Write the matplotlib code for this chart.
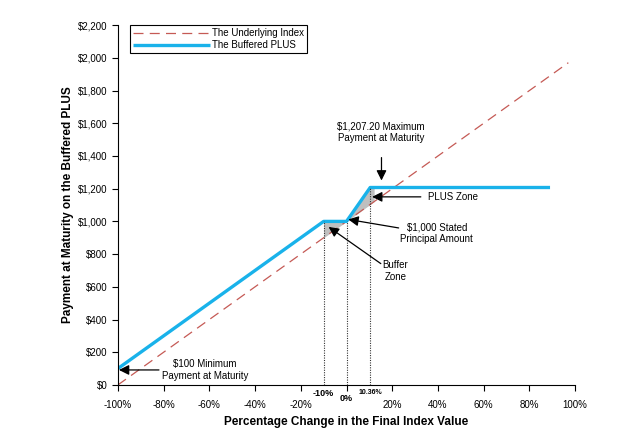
import matplotlib
matplotlib.use('Agg')
import numpy as np
import matplotlib.pyplot as plt
from matplotlib.ticker import FuncFormatter

plt.rcParams['font.family'] = ['Liberation Sans', 'DejaVu Sans']

# data (percent change -> payment)
index_x = [-100, 97]
index_y = [0, 1970]
plus_x = [-100, -10, 0, 10.36, 89]
plus_y = [100, 1000, 1000, 1207.2, 1207.2]
xticks = [-100, -80, -60, -40, -20, 0, 20, 40, 60, 80, 100]
xtick_labels = ['-100%', '-80%', '-60%', '-40%', '-20%', '', '20%', '40%', '60%', '80%', '100%']
yticks = list(range(0, 2201, 200))
marks = [-10, 0, 10.36]
mark_tops = [1000, 1000, 1207.2]

fig = plt.figure(figsize=(6.3, 4.4), dpi=100)
ax = fig.add_axes([0.187, 0.125, 0.726, 0.818])

# shaded zones between buffered plus and index
bx = np.array([-10, 0])
ax.fill_between(bx, [1000, 1000], 1000 + 10 * bx, color='#bfbfbf', lw=0)
px = np.array([0, 10.36, 12.072])
ax.fill_between(px, [1000, 1207.2, 1207.2], 1000 + 10 * px, color='#bfbfbf', lw=0)

ax.plot(index_x, index_y, color='#c55a55', lw=0.9, dashes=(8, 5), label='The Underlying Index')
ax.plot(plus_x, plus_y, color='#19b2ea', lw=2.4, label='The Buffered PLUS', solid_capstyle='butt')

for m, t in zip(marks, mark_tops):
    ax.plot([m, m], [0, t], color='#333333', lw=0.8, ls=(0, (1, 1.2)))

ax.set_xlim(-100, 100)
ax.set_ylim(0, 2200)
ax.set_xticks(xticks)
ax.set_xticklabels(xtick_labels)
ax.set_yticks(yticks)
ax.yaxis.set_major_formatter(FuncFormatter(lambda v, p: '${:,.0f}'.format(v)))
ax.tick_params(axis='both', labelsize=7, length=4, width=0.8)
ax.tick_params(axis='x', pad=7)
ax.spines['top'].set_visible(False)
ax.spines['right'].set_visible(False)

ax.text(-10, -22, '-10%', ha='center', va='top', fontsize=6.5, fontweight='bold')
ax.text(0, -55, '0%', ha='center', va='top', fontsize=6.5, fontweight='bold')
ax.text(10.36, -22, '10.36%', ha='center', va='top', fontsize=5, fontweight='bold')

ax.set_xlabel('Percentage Change in the Final Index Value', fontsize=8.5, fontweight='bold', labelpad=4)
ax.set_ylabel('Payment at Maturity on the Buffered PLUS', fontsize=8.5, fontweight='bold', labelpad=3)

aprops = dict(arrowstyle='-|>', color='black', lw=0.9, mutation_scale=15, shrinkA=0, shrinkB=0)
ax.annotate('$1,207.20 Maximum\nPayment at Maturity', xy=(15.3, 1255), xytext=(15, 1545),
            ha='center', va='center', fontsize=7)
ax.annotate('', xy=(15.3, 1250), xytext=(15.3, 1390), arrowprops=aprops)
ax.annotate('PLUS Zone', xy=(35.5, 1150), xytext=(35.5, 1150),
            ha='left', va='center', fontsize=7)
ax.annotate('', xy=(11.2, 1150), xytext=(32.5, 1150), arrowprops=aprops)
ax.annotate('$1,000 Stated\nPrincipal Amount', xy=(0.8, 1012), xytext=(39.5, 925),
            ha='center', va='center', fontsize=7)
ax.annotate('', xy=(0.8, 1012), xytext=(22.8, 960), arrowprops=aprops)
ax.annotate('Buffer\nZone', xy=(-7.8, 966), xytext=(21.4, 697),
            ha='center', va='center', fontsize=7)
ax.annotate('', xy=(-7.8, 966), xytext=(15, 742), arrowprops=aprops)
ax.annotate('$100 Minimum\nPayment at Maturity', xy=(-99.5, 92), xytext=(-62, 92),
            ha='center', va='center', fontsize=7)
ax.annotate('', xy=(-99.5, 92), xytext=(-82, 92), arrowprops=aprops)

leg = ax.legend(loc='upper left', bbox_to_anchor=(0.026, 1.0), fontsize=7, fancybox=False,
                edgecolor='black', framealpha=1, handlelength=8, handletextpad=0.2,
                borderpad=0.3, labelspacing=0.2, borderaxespad=0)
leg.get_frame().set_linewidth(0.8)

fig.savefig('out.png', dpi=100)
